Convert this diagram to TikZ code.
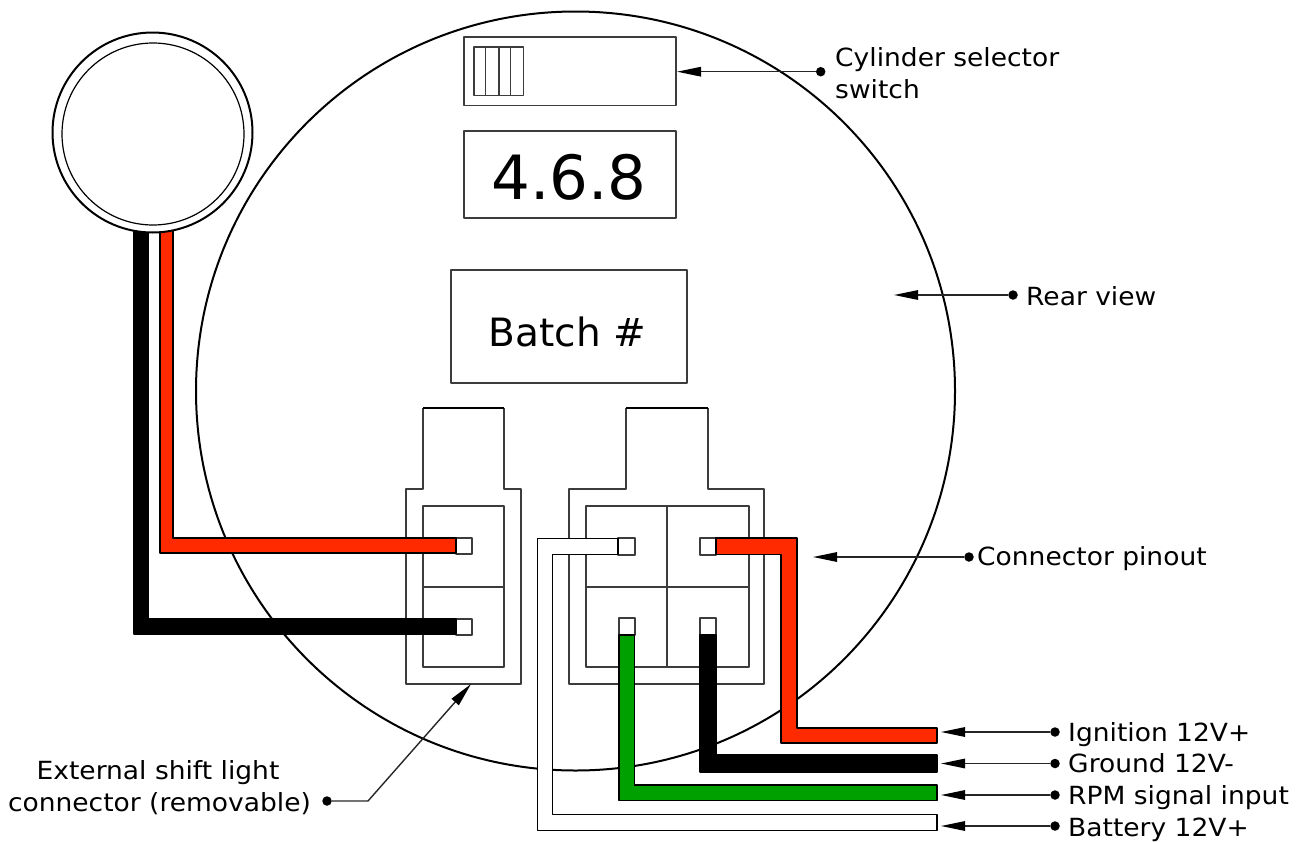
\documentclass[tikz,border=0pt]{standalone}
\usepackage{fontspec}
\setmainfont{DejaVu Sans}
\newfontfamily\lblfont[FakeStretch=1.06]{DejaVu Sans}
\usetikzlibrary{arrows.meta}
\definecolor{wirered}{RGB}{255,42,0}
\definecolor{wiregreen}{RGB}{0,160,0}
\definecolor{linegray}{RGB}{60,60,60}
\tikzset{
  body/.style={draw=linegray,line width=1.3pt,line join=round},
  ring/.style={draw=black,line width=2pt,fill=white},
  wire/.style={draw=black,line width=1.5pt,line join=round},
  lead/.style={draw=black!85,line width=1.4pt,-{Triangle[length=24pt,width=9.5pt,black]}},
  dotn/.style={circle,fill=black,inner sep=0pt,minimum size=9.5pt},
  lbl/.style={font=\lblfont\fontsize{25}{32}\selectfont,inner sep=0pt,anchor=base west},
}
\begin{document}
\begin{tikzpicture}[x=1pt,y=-1pt]
\useasboundingbox (0,0) rectangle (1300,841);
% rear view circle
\draw[ring] (575.5,391) circle [radius=379.5];
% switch
\draw[body] (464,37) rectangle (676,105.5);
\draw[body] (474,47) rectangle (523.5,95.5);
\foreach \x in {485.7,499,510.7} \draw[body] (\x,47) -- (\x,95.5);
% display and batch
\node[body,draw,minimum width=212pt,minimum height=87pt,inner sep=0pt] (disp) at (570,174.5) {};
\node[font=\fontsize{61}{61}\selectfont,inner sep=0pt] (disptext) at (569,177) {4.6.8};
\node[body,draw,minimum width=236pt,minimum height=113pt,inner sep=0pt] (batch) at (569,326.5) {};
\node[font=\fontsize{39}{39}\selectfont,inner sep=0pt] (batchtext) at (567.5,332) {Batch \#};
% left connector
\draw[body,fill=white] (423,408) -- (423,489) -- (406,489) -- (406,684) -- (521,684) -- (521,489) -- (504,489) -- (504,408);
\draw[line width=2.6pt] (423,408) -- (504,408);
\draw[body] (423,506) rectangle (504,667);
\draw[body] (423,587) -- (504,587);
% right connector
\draw[body,fill=white] (626,408) -- (626,489) -- (569,489) -- (569,684) -- (764,684) -- (764,489) -- (708,489) -- (708,408);
\draw[line width=2.6pt] (626,408) -- (708,408);
\draw[body] (586,506) rectangle (749,667);
\draw[body] (667,506) -- (667,667);
\draw[body] (586,587) -- (749,587);
% pins
\draw[body,fill=white] (456,538) rectangle (472,554);
\draw[body,fill=white] (456,619) rectangle (472,635);
\draw[body,fill=white] (618,538) rectangle (635,555);
\draw[body,fill=white] (700,538) rectangle (716,555);
\draw[body,fill=white] (619,618) rectangle (635,635);
\draw[body,fill=white] (700,618) rectangle (716,635);
% left wires
\draw[wire,fill=wirered] (160,200) -- (160,553) -- (456,553) -- (456,538) -- (173,538) -- (173,200) -- cycle;
\draw[wire,fill=black] (134,200) -- (134,634) -- (456,634) -- (456,619) -- (148,619) -- (148,200) -- cycle;
% shift light
\draw[ring] (152.5,132.5) circle [radius=100];
\draw[black,line width=1.2pt] (153,134) circle [radius=91];
% right wires
\draw[wire,line width=1.1pt,fill=white] (618,538.5) -- (537.5,538.5) -- (537.5,830.5) -- (937,830.5) -- (937,814.5) -- (552.5,814.5) -- (552.5,554.5) -- (618,554.5) -- cycle;
\draw[wire,fill=wirered] (716,538) -- (797,538) -- (797,728) -- (937,728) -- (937,743) -- (781,743) -- (781,554.5) -- (716,554.5) -- cycle;
\draw[wire,fill=black] (700,635) -- (716,635) -- (716,755) -- (937,755) -- (937,772) -- (700,772) -- cycle;
\draw[wire,fill=wiregreen] (619,635) -- (634.5,635) -- (634.5,785) -- (937,785) -- (937,800.5) -- (619,800.5) -- cycle;
% targets
\coordinate (tswitch) at (677,71.7);
\coordinate (trear) at (894,295);
\coordinate (tpin) at (813,557);
\coordinate (tign) at (941,732);
\coordinate (tgnd) at (941,763.5);
\coordinate (trpm) at (941,795);
\coordinate (tbat) at (941,826);
\coordinate (text) at (471,684);
\coordinate (bend) at (368,801);
% dots
\node[dotn] (dswitch) at (820.7,71.7) {};
\node[dotn] (drear) at (1013,295) {};
\node[dotn] (dpin) at (969,557) {};
\node[dotn] (dign) at (1055,732) {};
\node[dotn] (dgnd) at (1055,763.5) {};
\node[dotn] (drpm) at (1055,795) {};
\node[dotn] (dbat) at (1055,826) {};
\node[dotn] (dext) at (327,801) {};
\draw[lead] (dswitch) -- (tswitch);
\draw[lead] (drear) -- (trear);
\draw[lead] (dpin) -- (tpin);
\draw[lead] (dign) -- (tign);
\draw[lead] (dgnd) -- (tgnd);
\draw[lead] (drpm) -- (trpm);
\draw[lead] (dbat) -- (tbat);
\draw[lead] (dext) -- (bend) -- (text);
% labels
\node[lbl] (l1) at (835,66) {Cylinder selector};
\node[lbl] (l1b) at (835,98) {switch};
\node[lbl] (l2) at (1026,305) {Rear view};
\node[lbl] (l3) at (977,565) {Connector pinout};
\node[lbl] (l4) at (1068,741) {Ignition 12V+};
\node[lbl] (l5) at (1068,772) {Ground 12V-};
\node[lbl] (l6) at (1068,804) {RPM signal input};
\node[lbl] (l7) at (1068,836) {Battery 12V+};
\node[lbl,anchor=base] (l8) at (158,779) {External shift light};
\node[lbl,anchor=base] (l9) at (159.5,811) {connector (removable)};
\end{tikzpicture}
\end{document}
